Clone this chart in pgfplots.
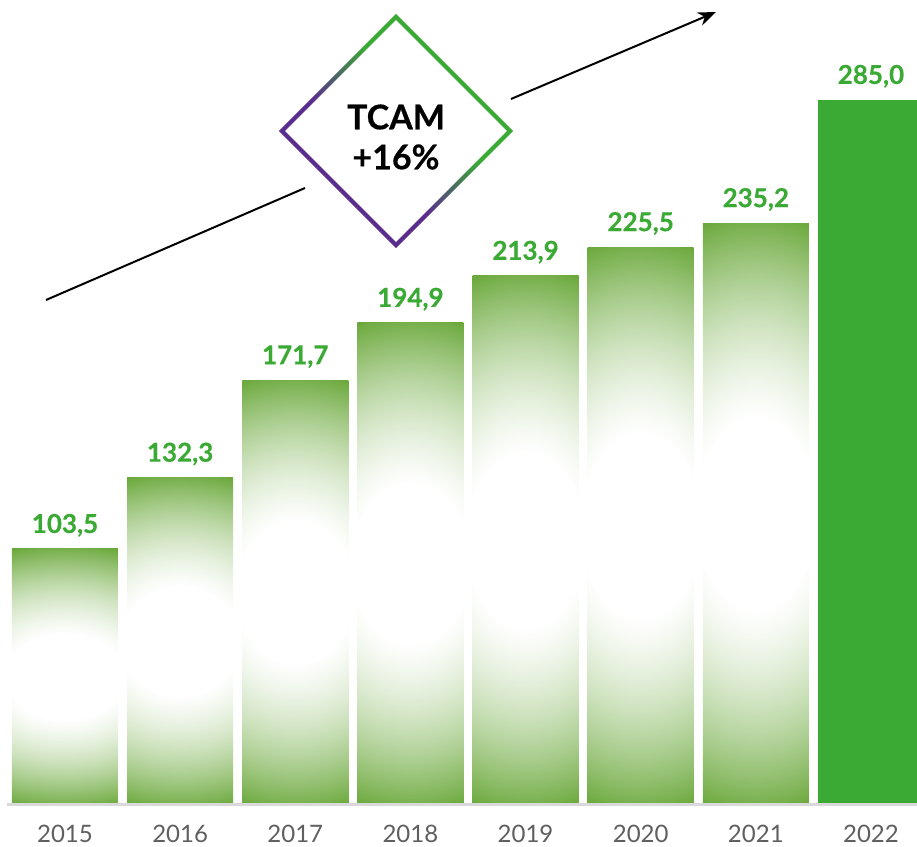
\documentclass[border=0pt]{standalone}
\usepackage{pgfplots}
\pgfplotsset{compat=1.18}
\usepackage{fontspec}
\setmainfont{Lato}
\newfontfamily\heavy{Lato}[BoldFeatures={FakeBold=0.5}]
\usetikzlibrary{arrows.meta}

\definecolor{barg}{HTML}{3AAA35}
\definecolor{yeargray}{HTML}{5F5F5F}
\definecolor{dpurple}{HTML}{5B2D8E}
\definecolor{basegray}{HTML}{D9D9D9}

\tikzset{valfont/.style={anchor=base, yshift=8pt, text=barg,
    font=\fontsize{13}{13}\selectfont\heavy\bfseries}}

% white band in the middle of each bar, green towards top and bottom
% (tikz fits the central 50bp square of a shading to the path)
\pgfdeclarefunctionalshading{barshade}{\pgfpoint{-50bp}{-50bp}}{\pgfpoint{50bp}{50bp}}{}{
  25 div exch 25 div 0.3 mul
  dup mul exch dup mul add sqrt
  0.33 sub 0.67 div
  dup dup mul add 0.5 mul
  dup dup
  0.53 mul 1 exch sub
  3 1 roll
  0.31 mul 1 exch sub
  exch 0.70 mul 1 exch sub
}
\pgfdeclareverticalshading{dshade}{100bp}{color(0bp)=(dpurple); color(42bp)=(dpurple); color(58bp)=(barg); color(100bp)=(barg)}

\pgfplotsset{gbar/.style={ybar, bar width=0.9206, bar shift=0pt, draw=none,
  nodes near coords, point meta=explicit symbolic,
  every node near coord/.append style={valfont}}}

\begin{document}
\begin{tikzpicture}
\begin{axis}[
  width=458.5pt, height=423.5pt, scale only axis,
  xmin=-0.5645, xmax=7.3997, ymin=-16.98, ymax=325.38,
  axis lines=none,
]
% one plot per bar, so that each bar gets its own shading
\addplot[gbar, shading=barshade] coordinates {(0,103.5) [103,5]};
\addplot[gbar, shading=barshade] coordinates {(1,132.3) [132,3]};
\addplot[gbar, shading=barshade] coordinates {(2,171.7) [171,7]};
\addplot[gbar, shading=barshade] coordinates {(3,194.9) [194,9]};
\addplot[gbar, shading=barshade] coordinates {(4,213.9) [213,9]};
\addplot[gbar, shading=barshade] coordinates {(5,225.5) [225,5]};
\addplot[gbar, shading=barshade] coordinates {(6,235.2) [235,2]};
\addplot[gbar, fill=barg] coordinates {(7,285.0) [285,0]};
\addplot[line width=1.5pt, basegray] coordinates {(-0.504,0) (7.45,0)};
\addplot[only marks, mark=none, nodes near coords, point meta=explicit symbolic,
  every node near coord/.append style={anchor=base, yshift=-19pt, inner sep=0pt,
    text=yeargray, font=\fontsize{12}{12}\selectfont}]
  coordinates {(0,0) [2015] (1,0) [2016] (2,0) [2017] (3,0) [2018]
               (4,0) [2019] (5,0) [2020] (6,0) [2021] (7,0) [2022]};
\coordinate (dc) at (axis cs:2.8748,272.43);
\coordinate (ll) at (rel axis cs:0,0);
\coordinate (ur) at (rel axis cs:1,1);
\end{axis}

\begin{scope}[shift={(dc)}]
  \draw[line width=1pt] (-175pt,-84.5pt) -- (-45.5pt,-28.5pt);
  \draw[line width=1pt, -{Stealth[length=9pt,width=7pt]}] (57.5pt,16pt) -- (160pt,59.5pt);
  \path[even odd rule, shading=dshade, shading angle=-45]
    (0,58.6pt) -- (58.6pt,0) -- (0,-58.6pt) -- (-58.6pt,0) -- cycle
    (0,55.6pt) -- (55.6pt,0) -- (0,-55.6pt) -- (-55.6pt,0) -- cycle;
  \node[font=\fontsize{17}{17}\selectfont\heavy\bfseries] at (0,7pt) {TCAM};
  \node[font=\fontsize{17}{17}\selectfont\heavy\bfseries] at (0,-13pt) {+16\%};
\end{scope}

\pgfresetboundingbox
\useasboundingbox (ll) rectangle (ur);
\end{tikzpicture}
\end{document}
